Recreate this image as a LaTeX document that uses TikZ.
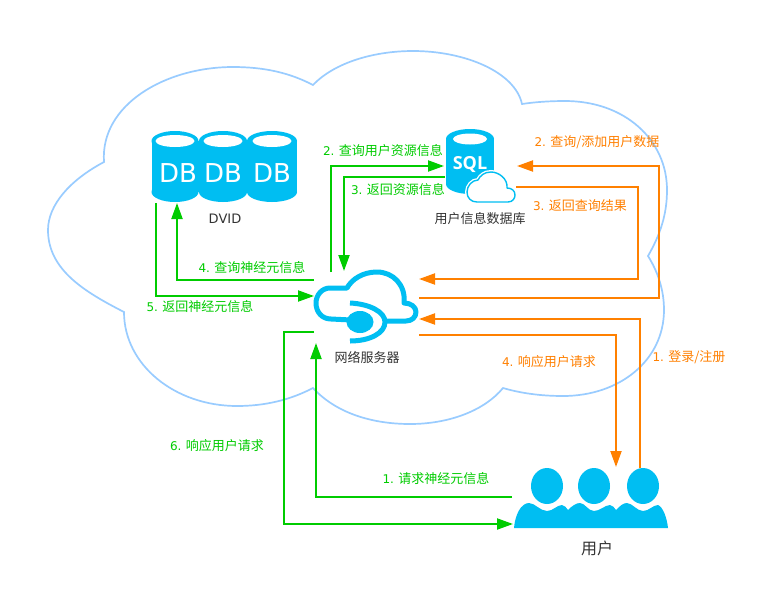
\documentclass[tikz,border=0pt]{standalone}
\usepackage{fontspec}
\setmainfont{DejaVu Sans}
\newfontfamily\cjk{Noto Sans CJK SC}
\newfontfamily\sqlfont{Open Sans}
\usetikzlibrary{arrows.meta}
\definecolor{gflow}{HTML}{00CC00}
\definecolor{oflow}{HTML}{FF8000}
\definecolor{iconblue}{HTML}{00BEF2}
\definecolor{cloudline}{HTML}{99CCFF}
\definecolor{labelgrey}{HTML}{333333}
\tikzset{
  x=1pt,y=-1pt,
  flowline/.style={line width=2pt,line join=miter,-{Triangle[length=16pt,width=11pt]}},
  gline/.style={flowline,draw=gflow},
  oline/.style={flowline,draw=oflow},
  lbl/.style={inner sep=0pt,font=\fontsize{12}{15}\selectfont},
  glbl/.style={lbl,text=gflow},
  olbl/.style={lbl,text=oflow},
  klbl/.style={lbl,text=labelgrey},
  dbtext/.style={inner sep=0pt,text=white,font=\fontsize{26}{28}\selectfont},
  iconline/.style={draw=iconblue,line width=5pt,line cap=butt,line join=round},
}
\newcommand{\zh}[1]{{\cjk\fontsize{13}{15}\selectfont #1}}
\newcommand{\step}[2]{#1.\hspace{4.4pt}\zh{#2}}
\newcommand{\drum}[7]{% cx rx top-centre-y bottom-centre-y ry hole-rx hole-ry
  \fill[iconblue] (#1,#3) ellipse[x radius=#2,y radius=#5];
  \fill[iconblue] (#1,#4) ellipse[x radius=#2,y radius=#5];
  \fill[iconblue] (#1-#2,#3) rectangle (#1+#2,#4);
  \fill[white] (#1,#3) ellipse[x radius=#6,y radius=#7];
}
\begin{document}
\begin{tikzpicture}
\useasboundingbox (0,0) rectangle (772,598);
\fill[white] (0,0) rectangle (772,598);

% large cloud
\draw[cloudline,line width=1.7pt,line join=miter]
  (104,162) .. controls (100,105) and (165,67) .. (233,67)
  .. controls (265,67) and (290,73) .. (313,85)
  .. controls (335,62) and (375,51) .. (413,51)
  .. controls (465,51) and (515,72) .. (522,104)
  .. controls (535,102) and (550,101) .. (565,101)
  .. controls (625,101) and (667,140) .. (667,190)
  .. controls (667,215) and (660,235) .. (648,256)
  .. controls (658,272) and (664,290) .. (664,310)
  .. controls (664,360) and (620,396) .. (563,396)
  .. controls (540,396) and (520,393) .. (503,388)
  .. controls (485,410) and (450,424) .. (410,424)
  .. controls (370,424) and (335,412) .. (313,388)
  .. controls (290,400) and (265,406) .. (237,406)
  .. controls (175,406) and (124,365) .. (124,312)
  .. controls (85,292) and (48,270) .. (48,230)
  .. controls (48,205) and (70,180) .. (104,162) -- cycle;

% DB drums
\drum{272}{25}{141}{192}{10}{19.5}{6}
\drum{223}{24}{141}{192}{10}{19.5}{6}
\drum{175}{23.5}{141}{192}{10}{19.5}{6}
\node[dbtext] (dbA) at (178,173) {DB};
\node[dbtext] (dbB) at (223,173) {DB};
\node[dbtext] (dbC) at (272,173) {DB};

% SQL drum with small cloud
\drum{470}{24}{139}{184}{10}{17}{5.5}
\node[inner sep=0pt,text=white,font=\sqlfont\bfseries\fontsize{18}{20}\selectfont] (sql) at (470,164) {SQL};
\path[draw=white,fill=white,line width=4pt]
  (477,202) -- (508,202) .. controls (513,202) and (515,198) .. (515,195)
  .. controls (515,191) and (512,188) .. (507,188)
  .. controls (508,179) and (499,172) .. (491,172)
  .. controls (484,172) and (480,176) .. (478,180)
  .. controls (472,180) and (467,186) .. (467,192)
  .. controls (467,198) and (471,202) .. (477,202) -- cycle;
\draw[iconblue,line width=1.4pt,line join=round]
  (477,202) -- (508,202) .. controls (513,202) and (515,198) .. (515,195)
  .. controls (515,191) and (512,188) .. (507,188)
  .. controls (508,179) and (499,172) .. (491,172)
  .. controls (484,172) and (480,176) .. (478,180)
  .. controls (472,180) and (467,186) .. (467,192)
  .. controls (467,198) and (471,202) .. (477,202) -- cycle;

% server icon
\draw[iconline]
  (351,320) -- (331,319) .. controls (322,319) and (316,312) .. (316,303)
  .. controls (316,295) and (322,288) .. (330,288) -- (347,288)
  .. controls (352,279) and (363,272) .. (377,272)
  .. controls (393,272) and (406,285) .. (404,303)
  .. controls (411,303) and (416,307) .. (416,312)
  .. controls (416,317) and (412,321) .. (406,321) -- (386,321);
\draw[iconline] (350,303) .. controls (370,304) and (385,312) .. (385,322)
  .. controls (385,333) and (370,341) .. (350,341);
\fill[iconblue] (360,322) ellipse[x radius=13.5,y radius=11];

% users icon
\fill[iconblue] (547,486) ellipse[x radius=16,y radius=18];
\fill[iconblue] (594,486) ellipse[x radius=16,y radius=18];
\fill[iconblue] (643,486) ellipse[x radius=16,y radius=18];
\fill[iconblue] (514,528) .. controls (515,515) and (521,503) .. (529,503)
  .. controls (535,503) and (540,511) .. (547,511)
  .. controls (553,511) and (557,505) .. (562,505)
  .. controls (565,505) and (566,508) .. (568,510)
  .. controls (572,506) and (576,503) .. (580,503)
  .. controls (585,503) and (588,511) .. (594,511)
  .. controls (600,511) and (605,505) .. (610,505)
  .. controls (613,505) and (614,508) .. (616,510)
  .. controls (620,506) and (623,503) .. (627,503)
  .. controls (632,503) and (637,511) .. (643,511)
  .. controls (649,511) and (653,505) .. (658,505)
  .. controls (663,507) and (667,518) .. (668,528) -- cycle;

% connector end points
\coordinate (userG1) at (512,497);
\coordinate (srvIn1) at (316,343);
\coordinate (srvOut6) at (314,332);
\coordinate (userIn6) at (513,524);
\coordinate (srvOut4) at (314,280);
\coordinate (dvidIn) at (177,203);
\coordinate (dvidOut) at (156,203);
\coordinate (srvIn5) at (314,296);
\coordinate (srvOut2) at (331,272);
\coordinate (sqlIn) at (444,166);
\coordinate (sqlOut) at (445,177);
\coordinate (srvIn3) at (344,271);
\coordinate (srvOutO2) at (419,298);
\coordinate (sqlInO) at (517,166);
\coordinate (sqlOutO) at (516,187);
\coordinate (srvInO3) at (419,279);
\coordinate (userOut) at (640,468);
\coordinate (srvInO4) at (419,319);
\coordinate (srvOutO4) at (419,335);
\coordinate (userIn) at (616,467);

% green connectors
\draw[gline] (userG1) -- (316,497) -- (srvIn1);
\draw[gline] (srvOut6) -- (284,332) -- (284,524) -- (userIn6);
\draw[gline] (srvOut4) -- (177,280) -- (dvidIn);
\draw[gline] (dvidOut) -- (156,296) -- (srvIn5);
\draw[gline] (srvOut2) -- (331,166) -- (sqlIn);
\draw[gline] (sqlOut) -- (344,177) -- (srvIn3);

% orange connectors
\draw[oline] (srvOutO2) -- (659,298) -- (659,166) -- (sqlInO);
\draw[oline] (sqlOutO) -- (638,187) -- (638,279) -- (srvInO3);
\draw[oline] (userOut) -- (640,319) -- (srvInO4);
\draw[oline] (srvOutO4) -- (616,335) -- (userIn);

% labels
\node[glbl] (g2) at (383,151) {\step{2}{查询用户资源信息}};
\node[glbl] (g3) at (398,190) {\step{3}{返回资源信息}};
\node[glbl] (g4) at (252,268) {\step{4}{查询神经元信息}};
\node[glbl] (g5) at (200,307) {\step{5}{返回神经元信息}};
\node[glbl] (g6) at (217,446) {\step{6}{响应用户请求}};
\node[glbl] (g1) at (436,479) {\step{1}{请求神经元信息}};
\node[olbl] (o2) at (597,142) {\step{2}{查询/添加用户数据}};
\node[olbl] (o3) at (580,206) {\step{3}{返回查询结果}};
\node[olbl] (o1) at (689,357) {\step{1}{登录/注册}};
\node[olbl] (o4) at (549,362) {\step{4}{响应用户请求}};
\node[klbl,font=\fontsize{13}{15}\selectfont] (dvid) at (225,219) {DVID};
\node[klbl] (sqlname) at (480,219) {\zh{用户信息数据库}};
\node[klbl] (srvname) at (367,357) {\zh{网络服务器}};
\node[klbl] (users) at (597,548) {{\cjk\fontsize{16}{18}\selectfont 用户}};
\end{tikzpicture}
\end{document}
